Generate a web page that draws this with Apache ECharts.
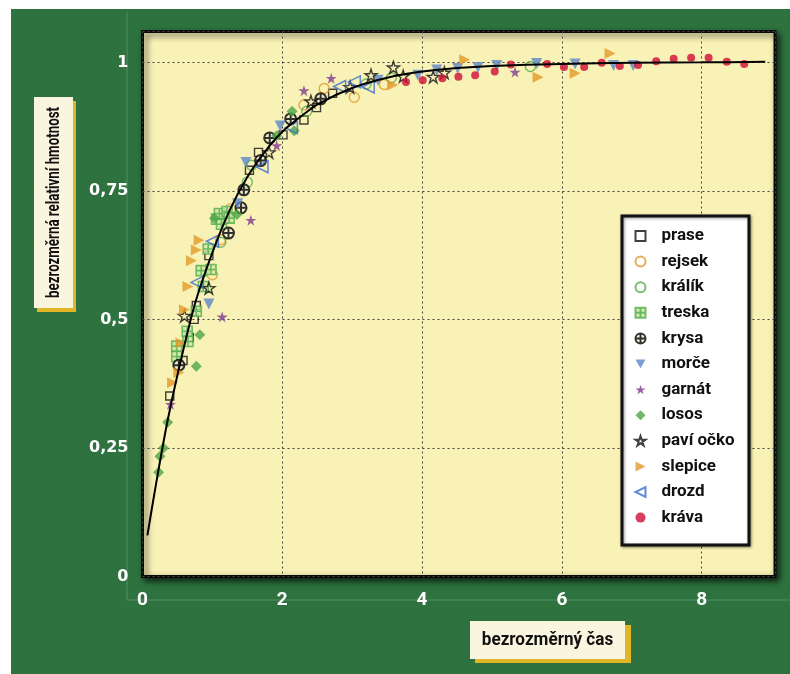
<!DOCTYPE html>
<html><head><meta charset="utf-8">
<script src="https://cdn.jsdelivr.net/npm/echarts@6/dist/echarts.min.js"></script>
<style>
html,body{margin:0;padding:0;background:#fff;width:790px;height:674px;overflow:hidden}
#c{position:absolute;left:11px;top:9px;width:779px;height:665px;}
</style></head><body><div id="c"></div>
<script>
// ---- data ----
const xTicks = [0, 2, 4, 6, 8];
const yTicks = [0, 0.25, 0.5, 0.75, 1];

const praseX = [0.39,0.58,0.67,0.74,0.77,0.95,1.53,1.66,2.01,2.31,2.49,2.72];
const praseY = [0.351,0.42,0.465,0.50,0.527,0.624,0.79,0.825,0.859,0.888,0.912,0.94];

const rejsekX = [1.0,1.12,1.26,2.31,2.6,3.03,3.46];
const rejsekY = [0.587,0.655,0.715,0.917,0.949,0.932,0.957];

const kralikX = [1.12,1.50,1.56,2.35,3.2,3.56,5.55];
const kralikY = [0.65,0.767,0.80,0.905,0.958,0.97,0.992];

const treskaX = [0.49,0.49,0.64,0.65,0.77,0.84,0.87,0.94,0.98,1.06,1.10,1.13,1.21,1.24];
const treskaY = [0.428,0.448,0.477,0.457,0.516,0.595,0.564,0.637,0.597,0.695,0.706,0.685,0.71,0.697];

const krysaX = [0.52,1.23,1.41,1.45,1.69,1.82,2.12,2.55];
const krysaY = [0.411,0.668,0.717,0.752,0.809,0.853,0.89,0.929];

const morceX = [0.95,1.36,1.48,1.97,3.37,3.94,4.21,4.51,4.80,5.07,5.64,6.19,6.74,7.02];
const morceY = [0.53,0.725,0.805,0.876,0.965,0.975,0.985,0.988,0.99,0.994,0.998,0.997,0.994,0.994];

const garnatX = [0.40,1.14,1.55,1.92,2.31,2.70,5.33];
const garnatY = [0.335,0.505,0.693,0.838,0.945,0.969,0.981];

const lososX = [0.23,0.25,0.30,0.36,0.77,0.82,1.03,1.35,1.92,2.14,2.17];
const lososY = [0.203,0.234,0.25,0.30,0.409,0.47,0.697,0.704,0.857,0.905,0.867];

const paviX = [0.60,0.95,1.81,2.41,2.97,3.27,3.59,3.73,4.16,4.32];
const paviY = [0.507,0.561,0.825,0.924,0.952,0.975,0.99,0.973,0.972,0.98];

const slepiceX = [0.43,0.52,0.55,0.60,0.65,0.70,0.77,0.81,3.58,4.61,5.66,6.19,6.69];
const slepiceY = [0.377,0.397,0.454,0.519,0.564,0.614,0.635,0.654,0.956,1.005,0.971,0.979,1.017];

const drozdX = [0.78,1.0,1.71,2.13,2.82,3.03,3.23];
const drozdY = [0.572,0.652,0.797,0.873,0.953,0.962,0.952];

const kravaX = [3.77,4.01,4.29,4.52,4.76,5.04,5.27,5.79,6.03,6.32,6.57,6.83,7.09,7.35,7.60,7.85,8.10,8.36,8.61];
const kravaY = [0.962,0.965,0.969,0.972,0.975,0.982,0.996,0.997,0.991,0.991,0.999,0.993,0.995,1.002,1.007,1.009,1.009,1.001,0.997];

const curveX = [0.07,0.2,0.35,0.5,0.75,1,1.25,1.5,1.75,2,2.25,2.5,3,3.5,4,4.5,5,6,7,8,8.91];
const curveY = [0.08,0.185,0.297,0.392,0.53,0.63,0.713,0.777,0.826,0.865,0.893,0.918,0.95,0.97,0.982,0.989,0.993,0.997,0.999,1.0,1.001];

const names = ['prase','rejsek','králík','treska','krysa','morče','garnát','losos','paví očko','slepice','drozd','kráva'];
const xs = [praseX,rejsekX,kralikX,treskaX,krysaX,morceX,garnatX,lososX,paviX,slepiceX,drozdX,kravaX];
const ys = [praseY,rejsekY,kralikY,treskaY,krysaY,morceY,garnatY,lososY,paviY,slepiceY,drozdY,kravaY];

// ---- styles ----
const STAR = 'path://M50,0L61.23,34.55L97.55,34.55L68.17,55.9L79.39,90.45L50,69.1L20.61,90.45L31.83,55.9L2.45,34.55L38.77,34.55Z';
const NONE = 'rgba(0,0,0,0)';
const styles = [
  {symbol:'rect', size:8, item:{color:NONE, borderColor:'#111', borderWidth:1.4}},
  {symbol:'circle', size:10, item:{color:NONE, borderColor:'#e3962a', borderWidth:1.4}},
  {symbol:'circle', size:10, item:{color:NONE, borderColor:'#55ad4c', borderWidth:1.4}},
  {symbol:'path://M0,0L10,0L10,10L0,10ZM5,0L5,10M0,5L10,5', size:10, item:{color:'#cfe6a8', borderColor:'#4fae4a', borderWidth:1.6}},
  {symbol:'path://M5,0A5,5,0,1,1,5,10A5,5,0,1,1,5,0ZM5,0L5,10M0,5L10,5', size:11, item:{color:'#f4f0d8', borderColor:'#000', borderWidth:2}},
  {symbol:'path://M0,0L10,0L5,9Z', size:11, item:{color:'#5e86c8'}},
  {symbol:STAR, size:11, item:{color:'#7e3a8f'}},
  {symbol:'diamond', size:11, item:{color:'#4ea547'}},
  {symbol:STAR, size:12, item:{color:NONE, borderColor:'#111', borderWidth:1.4}},
  {symbol:'path://M0,0L10,5L0,10Z', size:11, item:{color:'#e39a2b'}},
  {symbol:'path://M10,0L10,10L0,5Z', size:12, item:{color:NONE, borderColor:'#3b6ccc', borderWidth:1.5}},
  {symbol:'circle', size:8, item:{color:'#cf0c37'}}
];

const FONT = "Roboto,'Liberation Sans',sans-serif";

const series = names.map((n, i) => ({
  name: n,
  type: 'scatter',
  symbol: styles[i].symbol,
  symbolSize: styles[i].size,
  itemStyle: styles[i].item,
  data: xs[i].map((x, j) => [x, ys[i][j]]),
  z: 2,
  silent: true
}));
series.push({
  name: 'fit',
  type: 'line',
  data: curveX.map((x, j) => [x, curveY[j]]),
  showSymbol: false,
  smooth: 0.3,
  lineStyle: {color:'#000', width:2},
  z: 3,
  silent: true
});

const chart = echarts.init(document.getElementById('c'));
chart.setOption({
  backgroundColor: '#2e733f',
  animation: false,
  grid: {
    left: 131.5, top: 22.5, right: 15, bottom: 97.5,
    show: true, backgroundColor: '#f8f2b6', borderColor: '#0a0a0a', borderWidth: 3,
    shadowColor: 'rgba(0,0,0,0.65)', shadowBlur: 6, shadowOffsetX: 3, shadowOffsetY: 3
  },
  xAxis: {
    type: 'value', min: xTicks[0], max: 9.05, interval: 2,
    axisLine: {show:false}, axisTick: {show:false},
    axisLabel: {
      color:'#fff', fontFamily: FONT, fontWeight:'bold', fontSize:19, margin:14, showMaxLabel:false,
      formatter: v => xTicks.includes(v) ? String(v) : ''
    },
    splitLine: {show:true, lineStyle:{color:'#444', width:1, type:[2,3]}}
  },
  yAxis: {
    type: 'value', min: yTicks[0], max: 1.06, interval: 0.25,
    axisLine: {show:false}, axisTick: {show:false},
    axisLabel: {
      color:'#fff', fontFamily:"'DejaVu Sans',sans-serif", fontWeight:'bold', fontSize:16, margin:14, showMaxLabel:false,
      formatter: v => yTicks.includes(v) ? String(v).replace('.', ',') : ''
    },
    splitLine: {show:true, lineStyle:{color:'#444', width:1, type:[2,3]}}
  },
  legend: {
    orient: 'vertical', left: 623.5, top: 218, padding: 0,
    itemWidth: 10, itemHeight: 10, itemGap: 7.6,
    data: names,
    textStyle: {fontFamily: FONT, fontWeight:'bold', fontSize:17, color:'#111', lineHeight:18, padding:[0,0,0,11]},
    z: 10
  },
  graphic: [
    {type:'line', shape:{x1:116, y1:3, x2:116, y2:591}, style:{stroke:'rgba(255,255,255,0.18)', lineWidth:1}, z:0},
    {type:'line', shape:{x1:116, y1:591, x2:779, y2:591}, style:{stroke:'rgba(255,255,255,0.18)', lineWidth:1}, z:0},
    {type:'rect', shape:{x:611, y:207, width:127, height:329}, style:{fill:'#fff', stroke:'#111', lineWidth:3, shadowBlur:3, shadowColor:'rgba(0,0,0,0.4)', shadowOffsetX:1, shadowOffsetY:1}, z:5},
    {type:'rect', shape:{x:26, y:92, width:39, height:211}, style:{fill:'#e0b526'}, z:1},
    {type:'rect', shape:{x:23, y:88, width:39, height:211}, style:{fill:'#f9f5df'}, z:2},
    {type:'text', x:43, y:193.5, rotation:Math.PI/2, scaleX:0.74, style:{text:'bezrozměrná relativní hmotnost', x:0, y:0, align:'center', verticalAlign:'middle', font:"bold 18px "+FONT, fill:'#111'}, z:3},
    {type:'rect', shape:{x:464, y:616, width:156, height:38}, style:{fill:'#e0b526'}, z:1},
    {type:'rect', shape:{x:459, y:612, width:155, height:38}, style:{fill:'#f9f5df'}, z:2},
    {type:'text', x:536.5, y:631, scaleX:0.9, style:{text:'bezrozměrný čas', x:0, y:0, align:'center', verticalAlign:'middle', font:"bold 19px "+FONT, fill:'#111'}, z:3}
  ],
  series: series
});
</script>
</body></html>
